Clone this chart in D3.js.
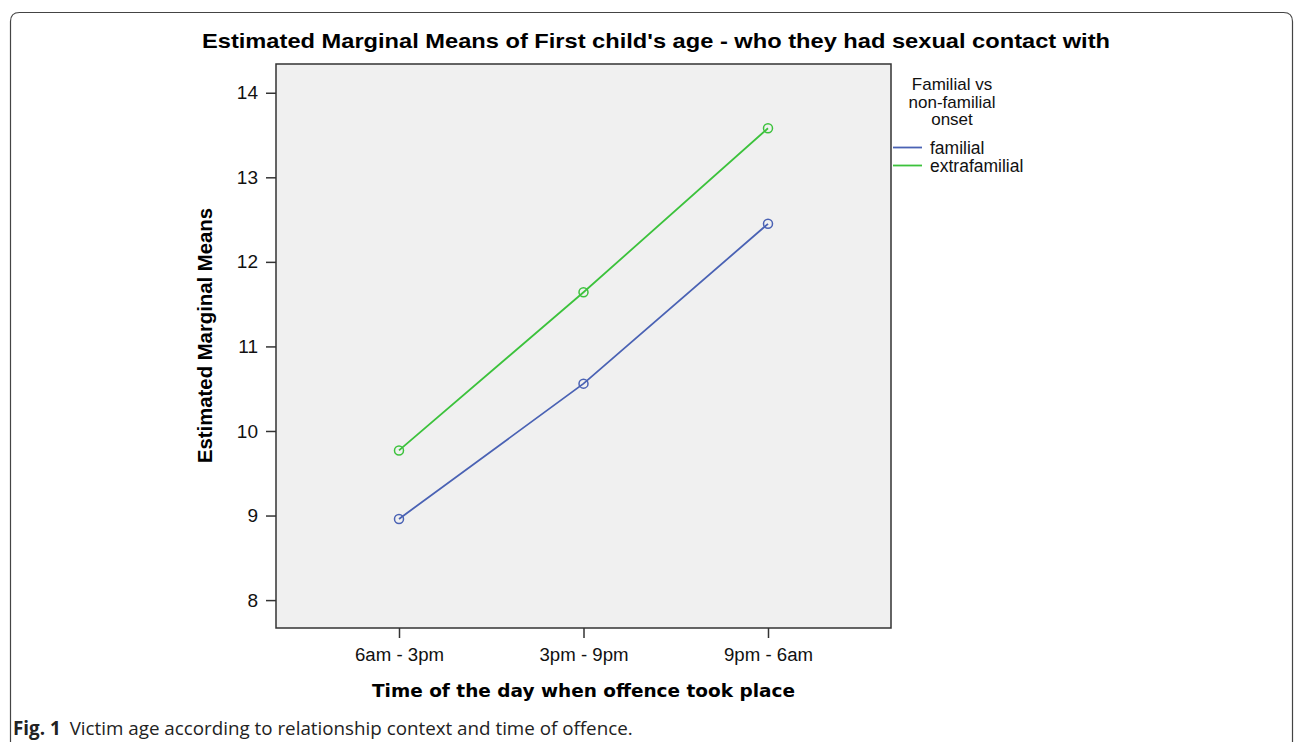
<!DOCTYPE html>
<html>
<head>
<meta charset="utf-8">
<script src="https://cdn.jsdelivr.net/npm/d3@7"></script>
<style>
  body { margin: 0; background: #fff; }
  svg { display: block; }
</style>
</head>
<body>
<div id="app"></div>
<script>
const times = ["6am - 3pm", "3pm - 9pm", "9pm - 6am"];
const groups = ["familial", "extrafamilial"];
const familial = [8.96, 10.56, 12.45];
const extrafamilial = [9.77, 11.64, 13.58];
const yTicks = [8, 9, 10, 11, 12, 13, 14];
const legendTitle = ["Familial vs", "non-familial", "onset"];
const colors = { familial: "#4a62b4", extrafamilial: "#3cc23c" };

const width = 1295, height = 742;
const plot = { left: 276, top: 64, right: 891, bottom: 628 };
const sans = "'Liberation Sans', Arial, sans-serif";

const x = d3.scalePoint().domain(times).range([plot.left, plot.right]).padding(2 / 3);
const y = d3.scaleLinear().domain([7.67, 14.34]).range([plot.bottom, plot.top]);

const svg = d3.select("#app").append("svg")
  .attr("width", width)
  .attr("height", height);

// card frame
svg.append("path")
  .attr("d", `M10.5,${height + 5} V21.5 Q10.5,12.5 19.5,12.5 H1283.5 Q1292.5,12.5 1292.5,21.5 V${height + 5}`)
  .attr("fill", "none")
  .attr("stroke", "#444")
  .attr("stroke-width", 1.2);

svg.append("text")
  .attr("x", 202)
  .attr("y", 47.5)
  .attr("textLength", 908)
  .attr("lengthAdjust", "spacingAndGlyphs")
  .style("font", `bold 20.5px ${sans}`)
  .text("Estimated Marginal Means of First child's age - who they had sexual contact with");

// plot background
svg.append("rect")
  .attr("x", plot.left)
  .attr("y", plot.top)
  .attr("width", plot.right - plot.left)
  .attr("height", plot.bottom - plot.top)
  .attr("fill", "#f0f0f0")
  .attr("stroke", "#333")
  .attr("stroke-width", 1.5);

const yAxis = svg.append("g")
  .attr("transform", `translate(${plot.left},0)`)
  .call(d3.axisLeft(y).tickValues(yTicks).tickSize(10).tickPadding(8).tickFormat(d3.format("d")));
yAxis.select(".domain").remove();
yAxis.selectAll("line").attr("stroke", "#333").attr("stroke-width", 1.5);
yAxis.selectAll("text")
  .style("font", `19px ${sans}`)
  .attr("fill", "#111");

const xAxis = svg.append("g")
  .attr("transform", `translate(0,${plot.bottom})`)
  .call(d3.axisBottom(x).tickSize(10).tickPadding(10));
xAxis.select(".domain").remove();
xAxis.selectAll("line").attr("stroke", "#333").attr("stroke-width", 1.5);
xAxis.selectAll("text")
  .style("font", `18px ${sans}`)
  .attr("textLength", 89)
  .attr("lengthAdjust", "spacingAndGlyphs")
  .attr("fill", "#111");

svg.append("text")
  .attr("transform", `translate(212,${(208 + 463) / 2}) rotate(-90)`)
  .attr("text-anchor", "middle")
  .attr("textLength", 255)
  .attr("lengthAdjust", "spacingAndGlyphs")
  .style("font", `bold 20px ${sans}`)
  .text("Estimated Marginal Means");

svg.append("text")
  .attr("x", 583.5)
  .attr("y", 697)
  .attr("text-anchor", "middle")
  .attr("textLength", 423)
  .attr("lengthAdjust", "spacingAndGlyphs")
  .style("font", "bold 17px 'DejaVu Sans', Verdana, sans-serif")
  .text("Time of the day when offence took place");

const series = [
  { name: "familial", values: familial },
  { name: "extrafamilial", values: extrafamilial },
];

const line = d3.line().x((d, i) => x(times[i])).y(d => y(d));

series.forEach(s => {
  svg.append("path")
    .datum(s.values)
    .attr("d", line)
    .attr("fill", "none")
    .attr("stroke", colors[s.name])
    .attr("stroke-width", 1.8);
  svg.selectAll(null)
    .data(s.values)
    .enter()
    .append("circle")
    .attr("cx", (d, i) => x(times[i]))
    .attr("cy", d => y(d))
    .attr("r", 4.5)
    .attr("fill", "none")
    .attr("stroke", colors[s.name])
    .attr("stroke-width", 1.5);
});

// legend
const legend = svg.append("g");
legendTitle.forEach((t, i) => {
  legend.append("text")
    .attr("x", 952)
    .attr("y", 90 + i * 17.5)
    .attr("text-anchor", "middle")
    .style("font", `17px ${sans}`)
    .attr("fill", "#111")
    .text(t);
});
groups.forEach((g, i) => {
  const yy = 147.5 + i * 18;
  legend.append("line")
    .attr("x1", 893).attr("x2", 922)
    .attr("y1", yy).attr("y2", yy)
    .attr("stroke", colors[g])
    .attr("stroke-width", 1.8);
  legend.append("text")
    .attr("x", 930)
    .attr("y", yy + 6.5)
    .style("font", `17.5px ${sans}`)
    .attr("fill", "#111")
    .text(g);
});

// caption
const cap = svg.append("text")
  .attr("x", 13)
  .attr("y", 735)
  .style("font", "18.8px 'Open Sans', 'Noto Sans', sans-serif")
  .attr("fill", "#222");
cap.append("tspan").style("font-weight", "bold").text("Fig. 1");
cap.append("tspan").attr("dx", 9).text("Victim age according to relationship context and time of offence.");
</script>
</body>
</html>
